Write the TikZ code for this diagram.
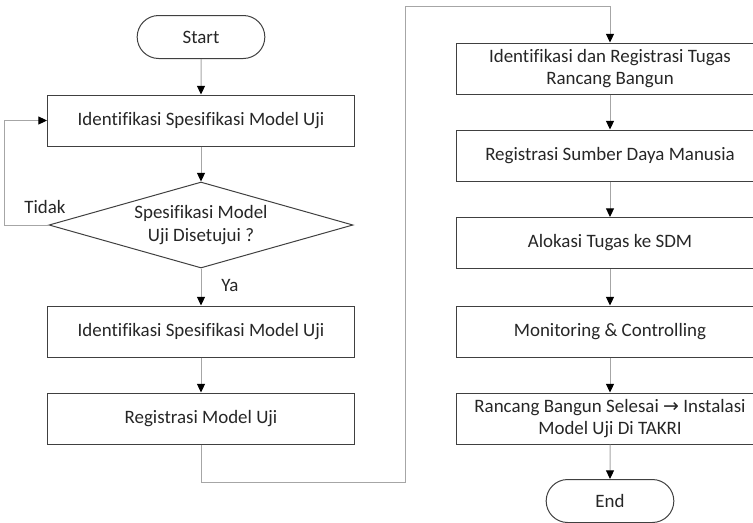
\documentclass[tikz,border=0pt]{standalone}
\usepackage{fontspec}
\setmainfont{Carlito}[Ligatures=NoCommon]
\newfontfamily\arrowfont{DejaVu Sans}
\usetikzlibrary{arrows.meta,shapes.geometric,shapes.misc}

\definecolor{boxline}{HTML}{404040}
\definecolor{flowline}{HTML}{A6A6A6}

\tikzset{
  proc/.style={rectangle, draw=boxline, line width=0.75pt, minimum width=230.25pt, minimum height=38.25pt, inner sep=2pt},
  term/.style={rounded rectangle, draw=boxline, line width=0.75pt, minimum width=99.75pt, minimum height=32.25pt, inner sep=2pt},
  dec/.style={diamond, draw=boxline, line width=0.75pt, shape aspect=3.53, minimum width=228pt, minimum height=64.5pt, inner sep=0pt},
  lbl/.style={inner sep=1pt},
  flow/.style={->, draw=flowline, line width=0.75pt},
}

\begin{document}
\begin{tikzpicture}[x=0.75pt, y=-0.75pt, every node/.style={font=\fontsize{14.2}{16.8}\selectfont, align=center, text=black!85}, >={Triangle[length=6.5pt, width=6pt, color=black]}]
        \clip (0,0) rectangle (753,522);
        % left column
        \node[term] (start) at (201,37) {Start};
        \node[proc] (spec1) at (201,120.5) {Identifikasi Spesifikasi Model Uji};
        \node[dec] (ok) at (201,225) {Spesifikasi Model\\Uji Disetujui ?};
        \node[proc] (spec2) at (201,331.5) {Identifikasi Spesifikasi Model Uji};
        \node[proc] (regmodel) at (201,418.5) {Registrasi Model Uji};
        \node[lbl] (tidak) at (45,207) {Tidak};
        \node[lbl] (ya) at (230,285) {Ya};
        % right column
        \node[proc] (tugas) at (610,68.5) {Identifikasi dan Registrasi Tugas\\Rancang Bangun};
        \node[proc] (sdm) at (610,155.5) {Registrasi Sumber Daya Manusia};
        \node[proc] (alokasi) at (610,243) {Alokasi Tugas ke SDM};
        \node[proc] (monitor) at (610,331.5) {Monitoring \& Controlling};
        \node[proc] (selesai) at (610,418.5) {Rancang Bangun Selesai {\arrowfont →} Instalasi\\Model Uji Di TAKRI};
        \node[term] (end) at (610,501) {End};
        % bends
        \coordinate (back) at (4,225);
        \coordinate (low) at (405,482);
        \coordinate (high) at (405,6);
        \draw[flow] (start) -- (spec1);
        \draw[flow] (spec1) -- (ok);
        \draw[flow] (ok) -- (spec2);
        \draw[flow] (spec2) -- (regmodel);
        \draw[flow] (ok.west) -- (back) |- (spec1.west);
        \draw[flow] (regmodel.south) |- (low) -- (high) -| (tugas.north);
        \draw[flow] (tugas) -- (sdm);
        \draw[flow] (sdm) -- (alokasi);
        \draw[flow] (alokasi) -- (monitor);
        \draw[flow] (monitor) -- (selesai);
        \draw[flow] (selesai) -- (end);
    \end{tikzpicture}
\end{document}
